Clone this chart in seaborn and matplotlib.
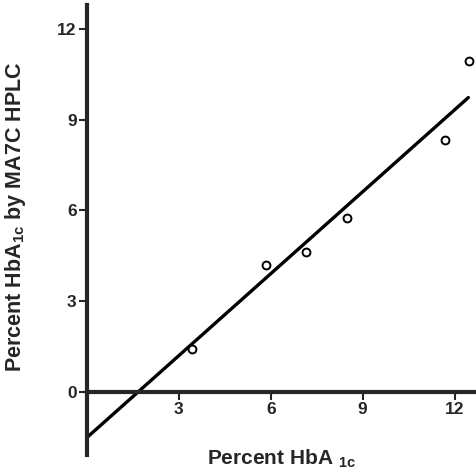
import numpy as np
import pandas as pd
import matplotlib
matplotlib.use('Agg')
import matplotlib.pyplot as plt
import seaborn as sns

# values
hba1c = [3.42, 5.84, 7.16, 8.49, 11.7, 12.46]
hplc = [1.41, 4.20, 4.61, 5.75, 8.34, 10.96]
fit_intercept = -1.52
fit_slope = 0.904
fit_range = [0.0, 12.45]
x_ticks = [3, 6, 9, 12]
y_ticks = [0, 3, 6, 9, 12]

sns.set_style('ticks')
plt.rcParams['font.family'] = ['Liberation Sans', 'DejaVu Sans']
plt.rcParams['font.weight'] = 'bold'
plt.rcParams['mathtext.fontset'] = 'custom'
plt.rcParams['mathtext.rm'] = 'Liberation Sans:bold'
plt.rcParams['mathtext.bf'] = 'Liberation Sans:bold'

df = pd.DataFrame({'x': hba1c, 'y': hplc})
fit_x = np.array(fit_range)
fit = pd.DataFrame({'x': fit_x, 'y': fit_intercept + fit_slope * fit_x})

fig = plt.figure(figsize=(4.76, 4.72), dpi=100)
ax = fig.add_axes([87 / 476, 17 / 472, 389 / 476, 450 / 472])

sns.lineplot(data=fit, x='x', y='y', color='black', linewidth=2.4, ax=ax)
sns.scatterplot(data=df, x='x', y='y', marker='o', s=32, facecolor='white',
                edgecolor='black', linewidth=1.4, ax=ax, zorder=3)

ax.set_xlim(0, 12.7)
ax.set_ylim(-2.1, 12.8)
ax.spines['left'].set_position(('data', 0))
ax.spines['bottom'].set_position(('data', 0))
ax.spines['right'].set_visible(False)
ax.spines['top'].set_visible(False)
for s in ['left', 'bottom']:
    ax.spines[s].set_linewidth(3)

ax.set_xticks(x_ticks)
ax.set_yticks(y_ticks)
ax.set_xticklabels([str(t) for t in x_ticks], fontsize=12.5, fontweight='bold')
ax.set_yticklabels([str(t) for t in y_ticks], fontsize=12.5, fontweight='bold')
ax.tick_params(axis='both', direction='out', length=6, width=1.5, pad=1.5)

ax.set_xlabel(r'Percent HbA $_{\mathbf{1c}}$', fontsize=15, fontweight='bold')
ax.set_ylabel(r'Percent HbA$_{\mathbf{1c}}$ by MA7C HPLC', fontsize=15.5, fontweight='bold')
ax.xaxis.set_label_coords(0.50, 0.017)
ax.yaxis.set_label_coords(-0.152, 0.53)

fig.savefig('out.png', dpi=100)
